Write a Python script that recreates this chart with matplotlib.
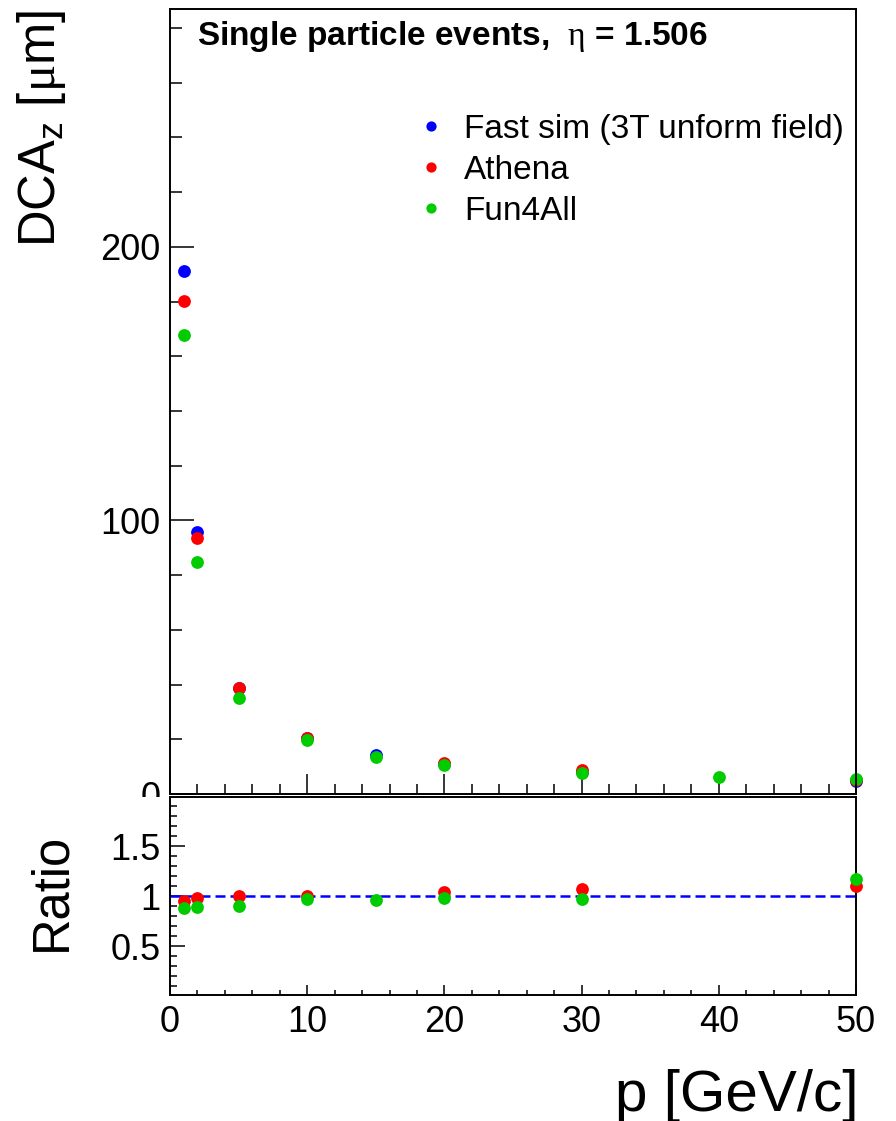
import matplotlib
matplotlib.use("Agg")
import matplotlib.pyplot as plt
from matplotlib.patches import Rectangle
from matplotlib.ticker import MultipleLocator, FuncFormatter

plt.rcParams['font.family'] = ['Liberation Sans', 'DejaVu Sans']
plt.rcParams['mathtext.fontset'] = 'custom'
plt.rcParams['mathtext.rm'] = 'Liberation Sans'
plt.rcParams['mathtext.sf'] = 'Liberation Serif'

# momentum points [GeV/c] for each sample
p_fast = [1, 2, 5, 10, 15, 20, 30, 50]
p_athena = [1, 2, 5, 10, 20, 30, 50]
p_fun4all = [1, 2, 5, 10, 15, 20, 30, 40, 50]

# DCA_z resolution [um]
dca_fast = [191.2, 95.6, 38.9, 20.5, 14.2, 10.9, 8.0, 4.6]
dca_athena = [180.2, 93.7, 38.8, 20.5, 11.3, 8.6, 5.1]
dca_fun4all = [167.7, 84.9, 35.2, 19.8, 13.7, 10.7, 7.8, 6.3, 5.4]

# ratio to the fast simulation
p_ratio_athena = [1, 2, 5, 10, 20, 30, 50]
ratio_athena = [0.946, 0.983, 0.997, 1.0, 1.038, 1.075, 1.10]
p_ratio_fun4all = [1, 2, 5, 10, 15, 20, 30, 50]
ratio_fun4all = [0.880, 0.893, 0.903, 0.968, 0.965, 0.982, 0.975, 1.175]

labels = ['Fast sim (3T unform field)', 'Athena', 'Fun4All']
colors = ['#0000ff', '#ff0000', '#00cc00']

W, H = 896, 1121
fig = plt.figure(figsize=(W / 100, H / 100), dpi=100)


def fx(px):
    return px / W


def fy(py):
    return 1 - py / H


L, R = 170, 856
ax = fig.add_axes([fx(L), fy(794), (R - L) / W, (794 - 9.3) / H])
rax = fig.add_axes([fx(L), fy(995), (R - L) / W, (995 - 797) / H])
ax.set_zorder(0)
rax.set_zorder(2)
# lower pad background hides whatever of the upper pad spills below it
fig.add_artist(Rectangle((0, 0), 1, fy(797), transform=fig.transFigure,
                         facecolor='white', edgecolor='none', zorder=1))

ms = 9.2
handles = []
for p, v, c, lab in zip([p_fast, p_athena, p_fun4all],
                        [dca_fast, dca_athena, dca_fun4all], colors, labels):
    h, = ax.plot(p, v, 'o', ms=ms, color=c, mec='none', label=lab, clip_on=False)
    handles.append(h)

for p, v, c in zip([p_ratio_athena, p_ratio_fun4all],
                   [ratio_athena, ratio_fun4all], colors[1:]):
    rax.plot(p, v, 'o', ms=ms, color=c, mec='none', clip_on=False, zorder=3)
rax.axhline(1.0, color='#0000ff', lw=1.8, ls=(0, (4, 2)), zorder=2)

ax.set_xlim(0, 50)
ax.set_ylim(0, 1.5 * max(dca_fast))
rax.set_xlim(0, 50)
rax.set_ylim(0.01, 1.99)

for a in (ax, rax):
    for s in a.spines.values():
        s.set_linewidth(1.4)
    a.xaxis.set_major_locator(MultipleLocator(10))
    a.xaxis.set_minor_locator(MultipleLocator(2))
    a.tick_params(which='both', direction='in', top=False, right=False,
                  width=1.1, labelsize=26, pad=7)

ax.yaxis.set_major_locator(MultipleLocator(100))
ax.yaxis.set_minor_locator(MultipleLocator(20))
ax.tick_params(axis='x', labelbottom=False)
ax.tick_params(axis='x', which='major', length=14.4)
ax.tick_params(axis='x', which='minor', length=7.2)
ax.tick_params(axis='y', which='major', length=17)
ax.tick_params(axis='y', which='minor', length=8.5)

rax.yaxis.set_major_locator(MultipleLocator(0.5))
rax.yaxis.set_minor_locator(MultipleLocator(0.1))
rax.yaxis.set_major_formatter(FuncFormatter(lambda v, pos: '%g' % v))
rax.tick_params(axis='x', which='major', length=7.2)
rax.tick_params(axis='x', which='minor', length=3.6)
rax.tick_params(axis='y', which='major', length=10.8)
rax.tick_params(axis='y', which='minor', length=5.2)

leg = ax.legend(handles=handles, loc='upper left',
                bbox_to_anchor=(fx(414), fy(114)), bbox_transform=fig.transFigure,
                frameon=False, fontsize=24, markerscale=0.8, handlelength=1.0,
                handletextpad=0.5, labelspacing=0.30, borderpad=0, borderaxespad=0)

fig.text(fx(197), fy(45), r'Single particle events,  $\mathsf{\eta}$ = 1.506',
         fontsize=24, fontweight='bold', ha='left', va='baseline')
fig.text(fx(55), fy(10), r'DCA$_{\mathrm{z}}$ [$\mathsf{\mu}$m]', rotation=90,
         rotation_mode='anchor', ha='right', va='baseline', fontsize=36.5)
fig.text(fx(65), fy(892), 'Ratio', rotation=90, rotation_mode='anchor',
         ha='center', va='baseline', fontsize=36.5)
fig.text(fx(858), fy(1111), 'p [GeV/c]', ha='right', va='baseline', fontsize=42)

fig.savefig('out.png', dpi=100, facecolor='white')
